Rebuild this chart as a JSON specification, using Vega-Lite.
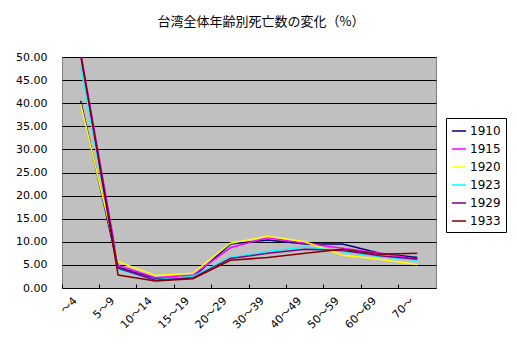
{
  "$schema": "https://vega.github.io/schema/vega-lite/v6.json",
  "width": 374,
  "height": 231,
  "autosize": "none",
  "padding": {"left": 62, "top": 57, "right": 80, "bottom": 68},
  "background": "white",
  "title": {"text": "台湾全体年齢別死亡数の変化（%）", "font": "Noto Sans CJK JP", "fontSize": 13, "fontWeight": "normal", "color": "black", "anchor": "start", "dx": 142, "offset": 22},
  "config": {
    "view": {"fill": "#C0C0C0", "stroke": "#808080", "strokeWidth": 1},
    "axis": {"labelFont": "DejaVu Sans, Noto Sans CJK JP", "labelFontSize": 11, "labelColor": "black", "domain": false, "title": null}
  },
  "data": {"values": [
    {"age": "～4", "year": "1910", "v": 40.5},
    {"age": "5～9", "year": "1910", "v": 4.5},
    {"age": "10～14", "year": "1910", "v": 2.0},
    {"age": "15～19", "year": "1910", "v": 2.3},
    {"age": "20～29", "year": "1910", "v": 9.5},
    {"age": "30～39", "year": "1910", "v": 10.4},
    {"age": "40～49", "year": "1910", "v": 9.5},
    {"age": "50～59", "year": "1910", "v": 9.5},
    {"age": "60～69", "year": "1910", "v": 7.5},
    {"age": "70～", "year": "1910", "v": 6.6},
    {"age": "～4", "year": "1915", "v": 51.0},
    {"age": "5～9", "year": "1915", "v": 4.9},
    {"age": "10～14", "year": "1915", "v": 2.2},
    {"age": "15～19", "year": "1915", "v": 2.8},
    {"age": "20～29", "year": "1915", "v": 8.7},
    {"age": "30～39", "year": "1915", "v": 10.9},
    {"age": "40～49", "year": "1915", "v": 9.7},
    {"age": "50～59", "year": "1915", "v": 8.6},
    {"age": "60～69", "year": "1915", "v": 7.5},
    {"age": "70～", "year": "1915", "v": 6.2},
    {"age": "～4", "year": "1920", "v": 39.8},
    {"age": "5～9", "year": "1920", "v": 5.7},
    {"age": "10～14", "year": "1920", "v": 2.7},
    {"age": "15～19", "year": "1920", "v": 3.2},
    {"age": "20～29", "year": "1920", "v": 9.7},
    {"age": "30～39", "year": "1920", "v": 11.2},
    {"age": "40～49", "year": "1920", "v": 10.0},
    {"age": "50～59", "year": "1920", "v": 7.1},
    {"age": "60～69", "year": "1920", "v": 6.2},
    {"age": "70～", "year": "1920", "v": 5.1},
    {"age": "～4", "year": "1923", "v": 48.0},
    {"age": "5～9", "year": "1923", "v": 4.0},
    {"age": "10～14", "year": "1923", "v": 1.8},
    {"age": "15～19", "year": "1923", "v": 2.5},
    {"age": "20～29", "year": "1923", "v": 6.6},
    {"age": "30～39", "year": "1923", "v": 7.9},
    {"age": "40～49", "year": "1923", "v": 8.9},
    {"age": "50～59", "year": "1923", "v": 7.9},
    {"age": "60～69", "year": "1923", "v": 6.8},
    {"age": "70～", "year": "1923", "v": 6.0},
    {"age": "～4", "year": "1929", "v": 50.3},
    {"age": "5～9", "year": "1929", "v": 4.3},
    {"age": "10～14", "year": "1929", "v": 1.7},
    {"age": "15～19", "year": "1929", "v": 2.2},
    {"age": "20～29", "year": "1929", "v": 6.4},
    {"age": "30～39", "year": "1929", "v": 7.5},
    {"age": "40～49", "year": "1929", "v": 8.4},
    {"age": "50～59", "year": "1929", "v": 8.1},
    {"age": "60～69", "year": "1929", "v": 7.0},
    {"age": "70～", "year": "1929", "v": 6.2},
    {"age": "～4", "year": "1933", "v": 50.6},
    {"age": "5～9", "year": "1933", "v": 2.8},
    {"age": "10～14", "year": "1933", "v": 1.5},
    {"age": "15～19", "year": "1933", "v": 2.0},
    {"age": "20～29", "year": "1933", "v": 6.0},
    {"age": "30～39", "year": "1933", "v": 6.6},
    {"age": "40～49", "year": "1933", "v": 7.5},
    {"age": "50～59", "year": "1933", "v": 8.4},
    {"age": "60～69", "year": "1933", "v": 7.3},
    {"age": "70～", "year": "1933", "v": 7.5}
  ]},
  "mark": {"type": "line", "strokeWidth": 1.5, "clip": true},
  "encoding": {
    "x": {"field": "age", "type": "nominal", "sort": null,
      "scale": {"type": "band", "paddingInner": 0, "paddingOuter": 0},
      "axis": {"labelAngle": -45, "labelAlign": "right", "labelBaseline": "middle", "bandPosition": 0, "ticks": true, "tickSize": -4, "tickColor": "black", "labelPadding": 15, "labelOffset": -5, "grid": false, "domain": false}},
    "y": {"field": "v", "type": "quantitative",
      "scale": {"domain": [0, 50], "nice": false},
      "axis": {"values": [0, 5, 10, 15, 20, 25, 30, 35, 40, 45, 50], "format": ".2f", "grid": true, "gridColor": "black", "gridWidth": 1, "ticks": false, "labelPadding": 15}},
    "color": {"field": "year", "type": "nominal",
      "scale": {"domain": ["1910", "1915", "1920", "1923", "1929", "1933"], "range": ["#000080", "#FF00FF", "#FFFF00", "#00FFFF", "#800080", "#800000"]},
      "legend": {"title": null, "orient": "none", "legendX": 384, "legendY": 61, "symbolType": "stroke", "symbolSize": 200, "symbolStrokeWidth": 1.5, "labelFont": "DejaVu Sans", "labelFontSize": 12, "labelColor": "black", "strokeColor": "black", "fillColor": "white", "padding": 5, "rowPadding": 4, "labelOffset": 3}}
  }
}
